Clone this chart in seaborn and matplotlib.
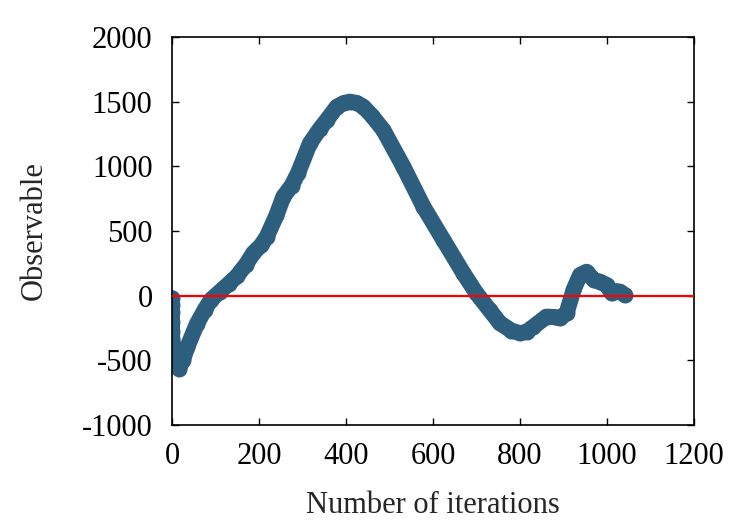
import numpy as np
import pandas as pd
import matplotlib
matplotlib.use("Agg")
import matplotlib.pyplot as plt
import seaborn as sns

# values
iterations = [0, 0, 0, 0, 0, 1, 2, 4, 8, 16, 25, 35, 57, 75, 90, 110,
              130, 149, 170, 187, 205, 218, 240, 256, 275, 290, 317, 340,
              356, 379, 395, 409, 425, 440, 460, 486, 532, 578, 624, 670,
              700, 730, 754, 780, 800, 815, 831, 861, 880, 892, 907, 923,
              938, 953, 970, 984, 999, 1011, 1020, 1030, 1041]
observable = [-20, -70, -130, -200, -270, -340, -410, -480, -540, -565,
              -500, -400, -220, -110, -30, 30,
              90, 150, 240, 330, 390, 456, 620, 765, 850, 950, 1178, 1290,
              1358, 1461, 1490, 1500, 1490, 1461, 1390, 1280, 997, 688, 430,
              173, 18, -110, -213, -270, -290, -280, -240, -162, -165, -175,
              -136, 44, 160, 185, 120, 108, 83, 18, 35, 31, 5]

df = pd.DataFrame({"iterations": iterations, "observable": observable})

sns.set_theme(style="ticks")
plt.rcParams["font.family"] = ["Liberation Serif", "DejaVu Serif"]

fig = plt.figure(figsize=(7.5, 5.25), dpi=100)
ax = fig.add_axes([0.2293, 0.1905, 0.696, 0.739])

sns.lineplot(data=df, x="iterations", y="observable", ax=ax,
             sort=False, estimator=None, color="#2e5e7e",
             linewidth=11.5, marker="o", markersize=11.5,
             markeredgewidth=0, solid_capstyle="round",
             solid_joinstyle="round")
ax.axhline(0, color="red", linewidth=1.6, zorder=3)

ax.set_xlim(0, 1200)
ax.set_ylim(-1000, 2000)
ax.set_xticks(range(0, 1201, 200))
ax.set_yticks(range(-1000, 2001, 500))
ax.set_xticklabels([str(v) for v in range(0, 1201, 200)])
ax.set_yticklabels([str(v) for v in range(-1000, 2001, 500)])

for s in ax.spines.values():
    s.set_visible(True)
    s.set_linewidth(1.2)
    s.set_color("black")
ax.tick_params(direction="in", length=5, width=1, top=True, right=True,
               labelsize=22, colors="black")
ax.tick_params(axis="x", pad=12)
ax.tick_params(axis="y", pad=14)

ax.set_xlabel("Number of iterations", fontsize=22, labelpad=15)
ax.set_ylabel("Observable", fontsize=22, labelpad=24)

fig.savefig("out.png", dpi=100)
